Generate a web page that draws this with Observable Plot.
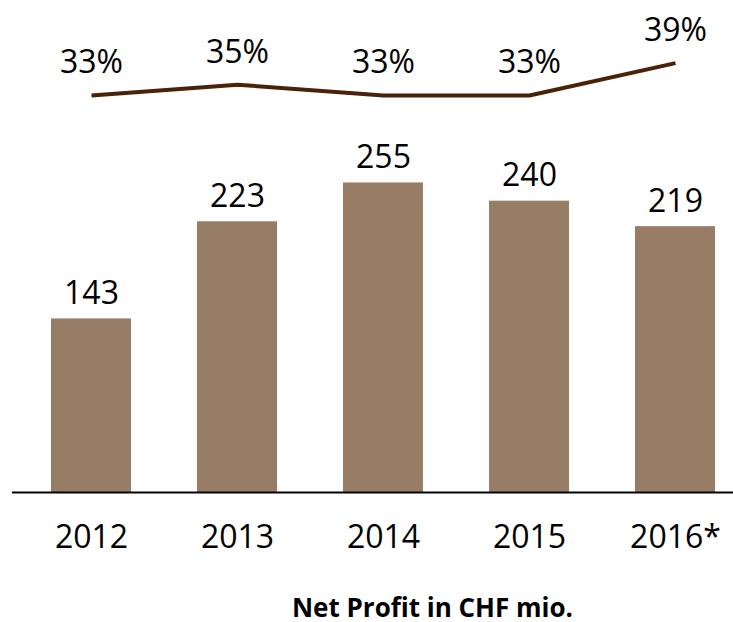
<!DOCTYPE html>
<html>
<head>
<meta charset="utf-8">
<script src="https://cdn.jsdelivr.net/npm/d3@7"></script>
<script src="https://cdn.jsdelivr.net/npm/@observablehq/plot@0.6"></script>
<style>
  html, body { margin: 0; padding: 0; background: #fff; }
  #wrap { position: relative; width: 733px; height: 580px; }
  #wrap svg { position: absolute; left: 0; top: 0; display: block; overflow: visible; }
  #caption {
    width: 733px; box-sizing: border-box; padding-left: 132px; text-align: center;
    font-family: "Open Sans", sans-serif; font-weight: bold; font-size: 26px;
    line-height: 26px; margin-top: 14px; color: #000;
  }
</style>
</head>
<body>
<div id="wrap"></div>
<div id="caption">Net Profit in CHF mio.</div>
<script>
// Data
const years = ["2012", "2013", "2014", "2015", "2016*"];
const netProfit = [143, 223, 255, 240, 219];
const marginPct = [33, 35, 33, 33, 39];

const barData = years.map((y, i) => ({year: y, value: netProfit[i]}));
const lineData = years.map((y, i) => ({year: y, pct: marginPct[i]}));

const W = 733, H = 580;
const xScale = {type: "band", domain: years, paddingInner: 0.449, paddingOuter: 0.177, align: 0.69};
const font = "Open Sans, sans-serif";

const barPlot = Plot.plot({
  width: W, height: H,
  marginLeft: 12, marginRight: 0, marginTop: 0, marginBottom: 88,
  style: {fontFamily: font, color: "#000", background: "transparent", overflow: "visible"},
  x: {...xScale, axis: null},
  y: {domain: [0, 405.3], axis: null},
  marks: [
    Plot.barY(barData, {x: "year", y: "value", fill: "#977c66"}),
    Plot.text(barData, {x: "year", y: "value", text: d => String(d.value), dy: -15,
      lineAnchor: "bottom", fontSize: 32, fill: "#000"}),
    Plot.ruleY([0], {stroke: "#000", strokeWidth: 2}),
    Plot.axisX({tickSize: 0, tickPadding: 33, fontSize: 32, label: null, fill: "#000"})
  ]
});

const linePlot = Plot.plot({
  width: W, height: H,
  marginLeft: 12, marginRight: 0, marginTop: 0, marginBottom: 307,
  style: {fontFamily: font, color: "#000", background: "transparent", overflow: "visible"},
  x: {...xScale, axis: null},
  y: {domain: [0, 50.6], axis: null},
  marks: [
    Plot.line(lineData, {x: "year", y: "pct", stroke: "#4a2208", strokeWidth: 4,
      strokeLinejoin: "round", strokeLinecap: "butt"}),
    Plot.text(lineData, {x: "year", y: "pct", text: d => d.pct + "%", dy: -22,
      lineAnchor: "bottom", fontSize: 32, fill: "#000"})
  ]
});

document.getElementById("wrap").append(barPlot, linePlot);
</script>
</body>
</html>
